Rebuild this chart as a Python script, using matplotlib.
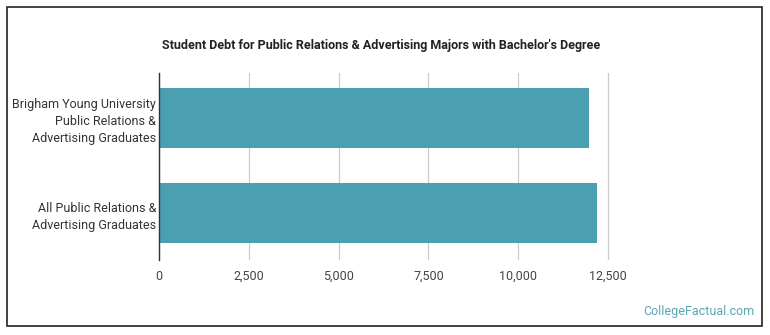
import matplotlib
matplotlib.use("Agg")
import matplotlib.pyplot as plt
from matplotlib.patches import Rectangle

categories = ["Brigham Young University\nPublic Relations &\nAdvertising Graduates",
              "All Public Relations &\nAdvertising Graduates"]
values = [11970, 12190]
xticks = [0, 2500, 5000, 7500, 10000, 12500]
xticklabels = ["0", "2,500", "5,000", "7,500", "10,000", "12,500"]
title = "Student Debt for Public Relations & Advertising Majors with Bachelor's Degree"

plt.rcParams['font.family'] = ['Roboto', 'DejaVu Sans']

fig = plt.figure(figsize=(7.7, 3.35), dpi=100)
fig.patches.append(Rectangle((7/770, 1-326/335), 755/770, 319/335, transform=fig.transFigure,
                             fill=False, edgecolor='#222222', linewidth=1.2))

ax = fig.add_axes([159/770, 1-260/335, (626-159)/770, (260-73)/335])
ypos = list(range(len(categories)))
ax.barh(ypos, values, height=0.63, color='#4aa0b1', zorder=2)
ax.set_ylim(1.49, -0.47)
ax.set_xlim(0, 13000)
ax.set_yticks(ypos)
ax.set_yticklabels(categories, fontsize=9, color='#333333', linespacing=1.4)
ax.set_xticks(xticks)
ax.set_xticklabels(xticklabels, fontsize=9, color='#444444')
ax.tick_params(axis='y', length=0, pad=2)
ax.tick_params(axis='x', length=0, pad=7)
ax.grid(axis='x', color='#cccccc', linewidth=0.9, zorder=0)
for s in ['top', 'right', 'bottom']:
    ax.spines[s].set_visible(False)
ax.spines['left'].set_color('#333333')
ax.spines['left'].set_linewidth(1.0)

fig.text(381/770, 1-45/335, title, ha='center', va='center', fontsize=9.0,
         fontweight='bold', color='#222222')
fig.text(755/770, 1-312/335, "CollegeFactual.com", ha='right', va='center', fontsize=9,
         color='#5aa6b6')

fig.savefig("out.png", dpi=100)
